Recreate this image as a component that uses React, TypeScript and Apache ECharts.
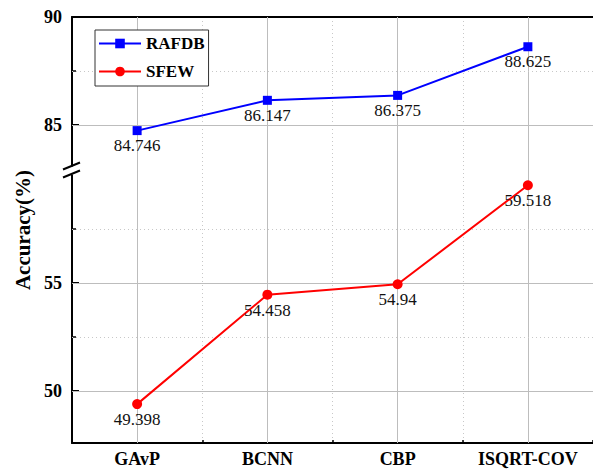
import React, { useEffect, useRef } from "react";
import * as echarts from "echarts";

const categories = ["GAvP", "BCNN", "CBP", "ISQRT-COV"];
const rafdb = [84.746, 86.147, 86.375, 88.625];
const sfew = [49.398, 54.458, 54.94, 59.518];
const lowerMajorTicks = [50, 55];
const upperMajorTicks = [85, 90];
const lowerMinorTicks = [52.5, 57.5];
const upperMinorTicks = [87.5];

// axis break: values above BREAK_LOW are shifted down by OFFSET
const AXIS_MIN = 47.6;
const BREAK_LOW = 60.2;
const OFFSET = 22.7;
const UPPER_MAX = 90;

const toAxis = (v: number) => (v > 70 ? v - OFFSET : v);
const fromAxis = (v: number) => (v > BREAK_LOW ? v + OFFSET : v);

const FONT = "'Times New Roman', 'Liberation Serif', serif";

export default function App() {
  const ref = useRef<HTMLDivElement>(null);
  useEffect(() => {
    if (!ref.current) return;
    const chart = echarts.init(ref.current, undefined, { renderer: "svg" });
    const majorVals = [...lowerMajorTicks, ...upperMajorTicks].map(toAxis);
    const minorVals = [...lowerMinorTicks, ...upperMinorTicks].map(toAxis);
    const solidGray = { type: "solid" as const, color: "#bdbdbd", width: 1 };
    const dotGray = { type: [1, 3] as any, color: "#c8c8c8", width: 1 };
    const mkLabel = (arr: number[]) => ({
      show: true,
      position: "bottom" as const,
      distance: 2,
      fontFamily: FONT,
      fontSize: 17,
      color: "#111",
      formatter: (p: any) => String(arr[p.dataIndex]),
    });
    chart.setOption({
      animation: false,
      grid: { left: 72, top: 17, right: -8, bottom: 27 },
      legend: {
        orient: "vertical",
        left: 95,
        top: 30,
        data: ["RAFDB", "SFEW"],
        backgroundColor: "#fff",
        borderColor: "#333",
        borderWidth: 1,
        borderRadius: 0,
        padding: [5, 4, 6, 3],
        itemWidth: 42,
        itemHeight: 12,
        itemGap: 11,
        textStyle: { fontFamily: FONT, fontWeight: "bold", fontSize: 17, color: "#000" },
      },
      xAxis: [
        {
          type: "category",
          data: categories,
          boundaryGap: true,
          position: "bottom",
          axisLine: { lineStyle: { color: "#000", width: 2 } },
          axisTick: { inside: true, alignWithLabel: true, length: 6, lineStyle: { color: "#000", width: 2 } },
          axisLabel: { fontFamily: FONT, fontWeight: "bold", fontSize: 18, color: "#000", margin: 7 },
          splitLine: { show: false },
        },
        {
          type: "value",
          min: 0,
          max: 4,
          interval: 1,
          position: "bottom",
          axisLine: { show: false },
          axisTick: { inside: true, length: 3, lineStyle: { color: "#000", width: 1.5 } },
          axisLabel: { show: false },
          splitLine: { show: true, lineStyle: dotGray },
        },
        {
          type: "value",
          min: 0,
          max: 1,
          position: "top",
          axisLine: { show: true, onZero: false, lineStyle: { color: "#000", width: 2 } },
          axisTick: { show: false },
          axisLabel: { show: false },
          splitLine: { show: false },
        },
      ],
      yAxis: [
        {
          type: "value",
          min: AXIS_MIN,
          max: toAxis(UPPER_MAX),
          position: "left",
          name: "Accuracy(%)",
          nameLocation: "middle",
          nameGap: 37,
          nameTextStyle: { fontFamily: FONT, fontWeight: "bold", fontSize: 21, color: "#000" },
          axisLine: { show: true, lineStyle: { color: "#000", width: 2 } },
          axisTick: { inside: true, length: 7, customValues: majorVals, lineStyle: { color: "#000", width: 2 } },
          axisLabel: {
            customValues: majorVals,
            margin: 10,
            fontFamily: FONT,
            fontWeight: "bold",
            fontSize: 18,
            color: "#000",
            formatter: (v: number) => String(Math.round(fromAxis(v))),
          },
          splitLine: { show: false },
        },
        {
          type: "value",
          min: AXIS_MIN,
          max: toAxis(UPPER_MAX),
          position: "left",
          axisLine: { show: false },
          axisTick: { inside: true, length: 4, customValues: minorVals, lineStyle: { color: "#000", width: 1.5 } },
          axisLabel: { show: false },
          splitLine: { show: false },
        },
      ],
      series: [
        {
          name: "RAFDB",
          type: "line",
          xAxisIndex: 0,
          yAxisIndex: 0,
          z: 3,
          data: rafdb.map(toAxis),
          symbol: "rect",
          symbolSize: 9,
          lineStyle: { color: "#0000ff", width: 2 },
          itemStyle: { color: "#0000ff" },
          label: mkLabel(rafdb),
          markLine: {
            silent: true,
            z: 1,
            symbol: "none",
            label: { show: false },
            data: [
              ...categories.map((c) => ({ xAxis: c, lineStyle: solidGray })),
              ...lowerMajorTicks.concat([85]).map((v) => ({ yAxis: toAxis(v), lineStyle: solidGray })),
              ...minorVals.map((v) => ({ yAxis: v, lineStyle: dotGray })),
            ],
          },
        },
        {
          name: "SFEW",
          type: "line",
          xAxisIndex: 0,
          yAxisIndex: 0,
          z: 3,
          data: sfew.map(toAxis),
          symbol: "circle",
          symbolSize: 10,
          lineStyle: { color: "#ff0000", width: 2 },
          itemStyle: { color: "#ff0000" },
          label: mkLabel(sfew),
        },
      ],
    });
    const p = chart.convertToPixel({ yAxisIndex: 0 }, BREAK_LOW) as number;
    const ax = chart.convertToPixel({ xAxisIndex: 1 }, 0) as number;
    chart.setOption({
      graphic: [
        { type: "rect", z: 100, shape: { x: ax - 3, y: p - 4, width: 6, height: 8 }, style: { fill: "#fff" } },
        { type: "line", z: 101, shape: { x1: ax - 9, y1: p - 1, x2: ax + 8, y2: p - 8 }, style: { stroke: "#000", lineWidth: 2 } },
        { type: "line", z: 101, shape: { x1: ax - 9, y1: p + 7, x2: ax + 8, y2: p }, style: { stroke: "#000", lineWidth: 2 } },
      ],
    });
    return () => chart.dispose();
  }, []);
  return <div ref={ref} style={{ width: 593, height: 470, position: "absolute", left: 0, top: 0 }} />;
}
